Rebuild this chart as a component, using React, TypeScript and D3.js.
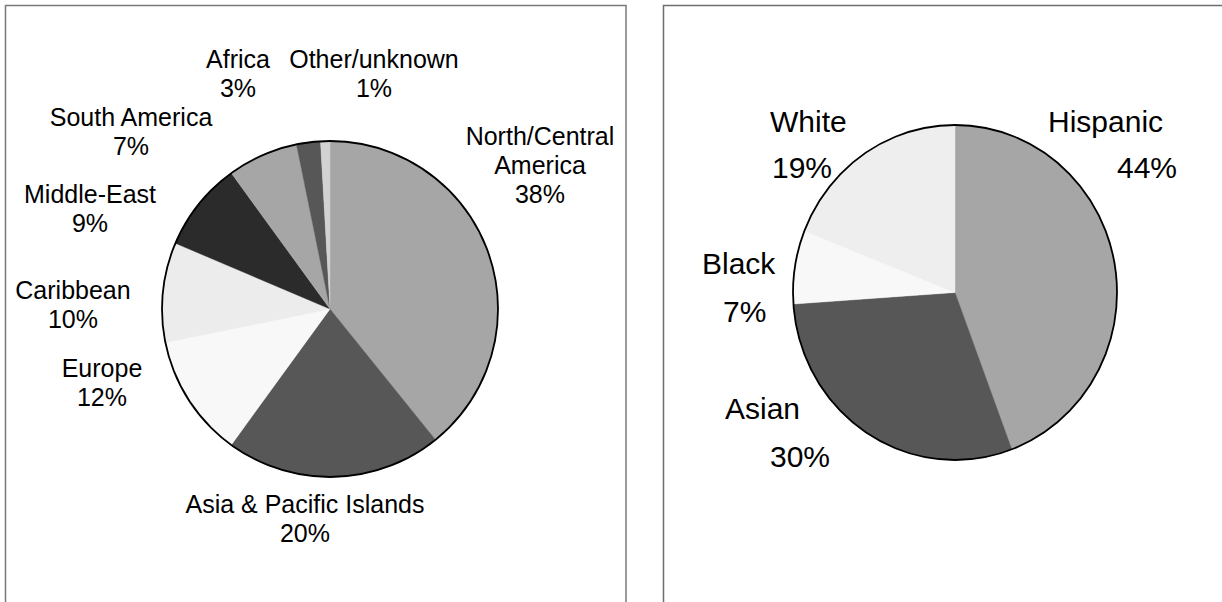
import React from "react";
import * as d3 from "d3";

// ---------- data ----------
const originRegions = [
  "North/Central America",
  "Asia & Pacific Islands",
  "Europe",
  "Caribbean",
  "Middle-East",
  "South America",
  "Africa",
  "Other/unknown",
];
const originShares = [39.2, 20.8, 11.8, 9.6, 8.6, 6.8, 2.3, 0.9];
const originLabelLines = [
  ["North/Central", "America", "38%"],
  ["Asia & Pacific Islands", "20%"],
  ["Europe", "12%"],
  ["Caribbean", "10%"],
  ["Middle-East", "9%"],
  ["South America", "7%"],
  ["Africa", "3%"],
  ["Other/unknown", "1%"],
];

const ethnicGroups = ["Hispanic", "Asian", "Black", "White"];
const ethnicShares = [44.3, 29.6, 7.1, 19.0];
const ethnicLabelLines = [
  ["Hispanic", "44%"],
  ["Asian", "30%"],
  ["Black", "7%"],
  ["White", "19%"],
];

// ---------- styles / layout ----------
const originColors = ["#a6a6a6", "#575757", "#f8f8f8", "#ececec", "#2b2b2b", "#a6a6a6", "#575757", "#d2d2d2"];
const ethnicColors = ["#a6a6a6", "#575757", "#f8f8f8", "#eeeeee"];

// label anchor positions (center x, first baseline) for left chart
const originLabelPos: [number, number][] = [
  [540, 145],
  [305, 513],
  [102, 377],
  [73, 299],
  [90, 203],
  [131, 126],
  [238, 68],
  [374, 68],
];
// per-line start x and baselines for right chart
const ethnicLabelPos: { x: number[]; y: number[] }[] = [
  { x: [1048, 1117], y: [132, 178] },
  { x: [725, 770], y: [419, 467] },
  { x: [702, 723], y: [274, 322] },
  { x: [770, 772], y: [132, 178] },
];

const FONT = "'Liberation Sans', Arial, Helvetica, sans-serif";

export default function App() {
  const W = 1222;
  const H = 602;

  const pie = d3.pie<number>().sort(null).value((d) => d);

  // left pie
  const lcx = 330, lcy = 309, lr = 168;
  const lArcs = pie(originShares);
  const lArc = d3.arc<d3.PieArcDatum<number>>().innerRadius(0).outerRadius(lr);

  // right pie (slightly elliptical)
  const rcx = 955, rcy = 292.5, rrx = 162, rry = 167.5;
  const rArcs = pie(ethnicShares);
  const rArc = d3.arc<d3.PieArcDatum<number>>().innerRadius(0).outerRadius(rrx);

  return (
    <svg
      width={W}
      height={H}
      style={{ position: "fixed", left: 0, top: 0, background: "#fff" }}
      fontFamily={FONT}
    >
      <rect x={0} y={0} width={W} height={H} fill="#fff" />
      {/* panel frames */}
      <path d={`M5.5,${H + 2} V5.5 H626 V${H + 2}`} fill="none" stroke="#7a7a7a" strokeWidth={1.5} />
      <path d={`M663.5,${H + 2} V5.5 H${W + 2}`} fill="none" stroke="#6e6e6e" strokeWidth={1.5} />

      {/* left pie */}
      <g transform={`translate(${lcx},${lcy})`}>
        {lArcs.map((a, i) => (
          <path key={originRegions[i]} d={lArc(a) || ""} fill={originColors[i]} stroke={originColors[i]} strokeWidth={0.4} />
        ))}
        <circle r={lr} fill="none" stroke="#000" strokeWidth={1.8} />
      </g>
      {originLabelLines.map((lines, i) => (
        <text key={i} x={originLabelPos[i][0]} y={originLabelPos[i][1]} fontSize={25} textAnchor="middle" fill="#000">
          {lines.map((t, j) => (
            <tspan key={j} x={originLabelPos[i][0]} y={originLabelPos[i][1] + j * 29}>
              {t}
            </tspan>
          ))}
        </text>
      ))}

      {/* right pie */}
      <g transform={`translate(${rcx},${rcy}) scale(1,${rry / rrx})`}>
        {rArcs.map((a, i) => (
          <path key={ethnicGroups[i]} d={rArc(a) || ""} fill={ethnicColors[i]} stroke={ethnicColors[i]} strokeWidth={0.4} />
        ))}
      </g>
      <ellipse cx={rcx} cy={rcy} rx={rrx} ry={rry} fill="none" stroke="#000" strokeWidth={1.8} />
      {ethnicLabelLines.map((lines, i) =>
        lines.map((t, j) => (
          <text key={`${i}-${j}`} x={ethnicLabelPos[i].x[j]} y={ethnicLabelPos[i].y[j]} fontSize={30} fill="#000">
            {t}
          </text>
        ))
      )}
    </svg>
  );
}
